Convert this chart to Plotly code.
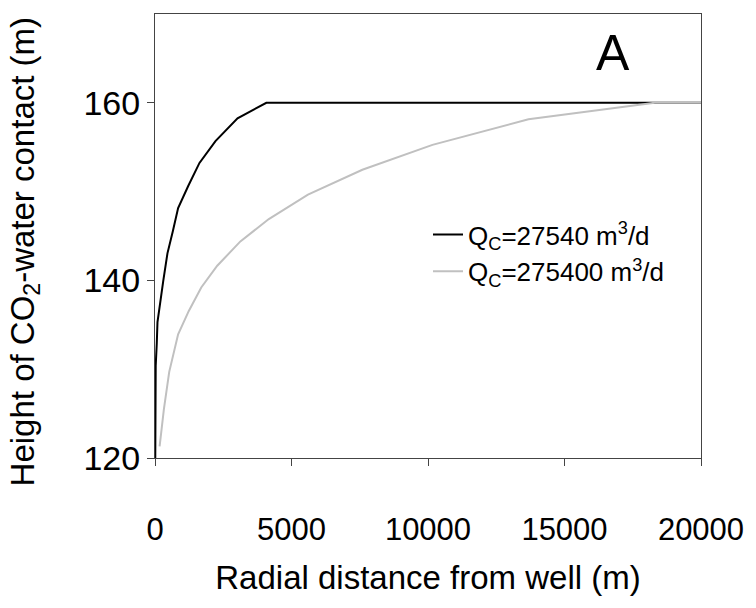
import plotly.graph_objects as go

# Qc = 27540 m3/d (black)
x_low = [10, 26, 65, 91, 300, 456, 651, 847, 1212, 1629, 2215, 3023, 4078, 20000]
y_low = [120.0, 130.4, 132.9, 135.3, 139.9, 143.05, 145.5, 148.14, 150.6, 153.23, 155.68, 158.25, 160.0, 160.0]

# Qc = 275400 m3/d (grey)
x_high = [169, 326, 521, 847, 1238, 1694, 2280, 3127, 4169, 5603, 7596, 10163, 13681, 18306, 20000]
y_high = [121.3, 125.5, 129.7, 133.93, 136.56, 139.2, 141.65, 144.39, 146.91, 149.65, 152.46, 155.26, 158.14, 160.0, 160.0]

x_ticks = [0, 5000, 10000, 15000, 20000]
y_ticks = [120, 140, 160]

FONT = "Liberation Sans, Arial, sans-serif"

fig = go.Figure()
fig.add_trace(go.Scatter(x=x_low, y=y_low, mode="lines",
                         line=dict(color="black", width=2),
                         name="Q<sub>C</sub>=27540 m<sup>3</sup>/d"))
fig.add_trace(go.Scatter(x=x_high, y=y_high, mode="lines",
                         line=dict(color="#c0c0c0", width=2),
                         name="Q<sub>C</sub>=275400 m<sup>3</sup>/d"))

fig.update_layout(
    width=756, height=608,
    margin=dict(l=155, r=42, t=14, b=150),
    paper_bgcolor="white", plot_bgcolor="white",
    font=dict(family=FONT, color="black"),
    showlegend=True,
    legend=dict(x=0.5, y=0.556, xanchor="left", yanchor="top",
                bgcolor="rgba(0,0,0,0)", font=dict(size=26, family=FONT),
                tracegroupgap=0),
)
fig.update_xaxes(range=[0, 20000], tickvals=x_ticks, ticktext=[str(v) for v in x_ticks],
                 ticks="outside", ticklen=7, ticklabelstandoff=37,
                 ticklabeloverflow="allow",
                 tickcolor="#444", showline=True, linecolor="#444", linewidth=1,
                 mirror=True, showgrid=False, zeroline=False,
                 tickfont=dict(size=31), title=dict(text="Radial distance from well (m)",
                 font=dict(size=33), standoff=19))
fig.update_yaxes(range=[120, 170], tickvals=y_ticks, ticktext=[str(v) for v in y_ticks],
                 ticks="outside", ticklen=7,
                 tickcolor="#444", showline=True, linecolor="#444", linewidth=1,
                 mirror=True, showgrid=False, zeroline=False,
                 tickfont=dict(size=34))
fig.add_annotation(text="Height of CO<sub>2</sub>-water contact (m)",
                   x=0, y=0.463, xref="paper", yref="paper", xshift=-130,
                   xanchor="center", yanchor="middle", textangle=-90,
                   showarrow=False, font=dict(size=33, family=FONT))
fig.add_annotation(text="A", x=0.838, y=0.912, xref="paper", yref="paper",
                   xanchor="center", yanchor="middle",
                   showarrow=False, font=dict(size=50, family=FONT))

fig.write_html("out.html", config={"displayModeBar": False},
               post_script="document.body.style.margin='0';document.body.style.overflow='hidden';")
